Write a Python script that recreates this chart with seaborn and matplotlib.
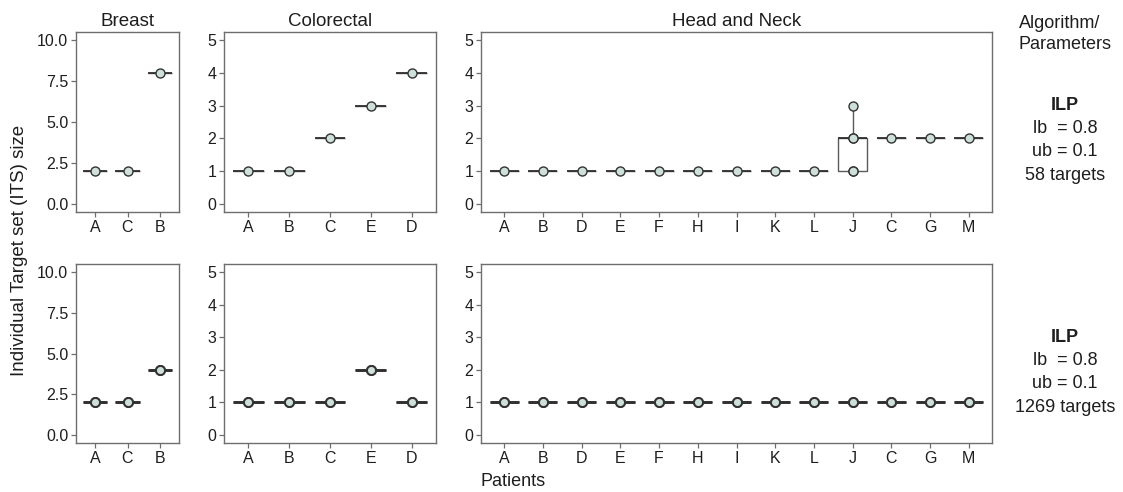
import pandas as pd
import matplotlib
matplotlib.use("Agg")
import matplotlib.pyplot as plt
import seaborn as sns

# patients per cancer type (x order as in the figure)
breast_patients = ["A", "C", "B"]
colorectal_patients = ["A", "B", "C", "E", "D"]
hn_patients = ["A", "B", "D", "E", "F", "H", "I", "K", "L", "J", "C", "G", "M"]

# ITS sizes, top row (58 targets)
breast_58 = [[2], [2], [8]]
colorectal_58 = [[1], [1], [2], [3], [4]]
hn_58 = [[1], [1], [1], [1], [1], [1], [1], [1], [1], [1, 1, 2, 2, 3], [2], [2], [2]]

# ITS sizes, bottom row (1269 targets)
breast_1269 = [[2, 2], [2, 2], [4, 4]]
colorectal_1269 = [[1, 1], [1, 1], [1, 1], [2, 2], [1, 1]]
hn_1269 = [[1, 1]] * 13

row_labels = ["ILP\nlb  = 0.8\nub = 0.1\n58 targets", "ILP\nlb  = 0.8\nub = 0.1\n1269 targets"]

rows = []
for setting, blocks in [("58", [breast_58, colorectal_58, hn_58]),
                        ("1269", [breast_1269, colorectal_1269, hn_1269])]:
    for cancer, pats, vals in zip(["Breast", "Colorectal", "Head and Neck"],
                                  [breast_patients, colorectal_patients, hn_patients], blocks):
        for p, vs in zip(pats, vals):
            for v in vs:
                rows.append({"setting": setting, "cancer": cancer, "patient": p, "its": v})
df = pd.DataFrame(rows)

sns.set_style("ticks")
plt.rcParams["font.family"] = ["Liberation Sans", "DejaVu Sans"]

fig = plt.figure(figsize=(11.23, 4.92), dpi=100)
W, H = 1123, 492

# pixel boxes of the panels
cols = [(76, 179), (224, 436), (481, 992)]
rows_px = [(32, 212), (264, 443)]
cancers = ["Breast", "Colorectal", "Head and Neck"]
orders = [breast_patients, colorectal_patients, hn_patients]
gray = "#6e6e6e"
txt = "#1e1e1e"

for r, (setting, (top, bot)) in enumerate(zip(["58", "1269"], rows_px)):
    for c, ((l, rr), cancer, order) in enumerate(zip(cols, cancers, orders)):
        ax = fig.add_axes([l / W, 1 - bot / H, (rr - l) / W, (bot - top) / H])
        sub = df[(df.setting == setting) & (df.cancer == cancer)]
        sns.boxplot(data=sub, x="patient", y="its", order=order, width=0.75,
                    color="white", linecolor="#5a5a5a", linewidth=1.0,
                    showfliers=False, showcaps=False, ax=ax,
                    medianprops={"color": "#303030", "linewidth": 1.3 if r == 0 else 2.1})
        sns.stripplot(data=sub, x="patient", y="its", order=order, jitter=False,
                      color="#cde0da", edgecolor="#333333", linewidth=1.0 if r == 0 else 1.4,
                      size=6.5, ax=ax, zorder=5)
        ax.set_xlim(-0.6, len(order) - 0.4)
        if cancer == "Breast":
            ax.set_ylim(-0.5, 10.5)
            ax.set_yticks([0, 2.5, 5, 7.5, 10])
            ax.set_yticklabels(["0.0", "2.5", "5.0", "7.5", "10.0"])
        else:
            ax.set_ylim(-0.25, 5.25)
            ax.set_yticks([0, 1, 2, 3, 4, 5])
        ax.set_xlabel("")
        ax.set_ylabel("")
        for s in ax.spines.values():
            s.set_visible(True)
            s.set_color(gray)
            s.set_linewidth(1.0)
        ax.tick_params(colors=gray, labelcolor=txt, labelsize=11.5, length=3.5, width=0.9, pad=2)
        if r == 0:
            ax.set_title(cancer, fontsize=13.5, color=txt, pad=4)

# right-side strip labels
for (top, bot), lab in zip(rows_px, row_labels):
    for i, line in enumerate(lab.split("\n")):
        fig.text(1065 / W, 1 - (top + 73 + i * 23.5) / H, line, ha="center", va="center",
                 fontsize=13, color=txt, fontweight="bold" if i == 0 else "normal")

fig.text(1019 / W, 1 - 34 / H, "Algorithm/\nParameters", ha="left", va="center",
         fontsize=13, color=txt, linespacing=1.25)
fig.text(20 / W, 1 - 250 / H, "Individual Target set (ITS) size", rotation=90,
         ha="center", va="center", fontsize=13.5, color=txt)
fig.text(481 / W, 1 - 481 / H, "Patients", ha="left", va="center",
         fontsize=13, color=txt)

fig.savefig("out.png", dpi=100)
